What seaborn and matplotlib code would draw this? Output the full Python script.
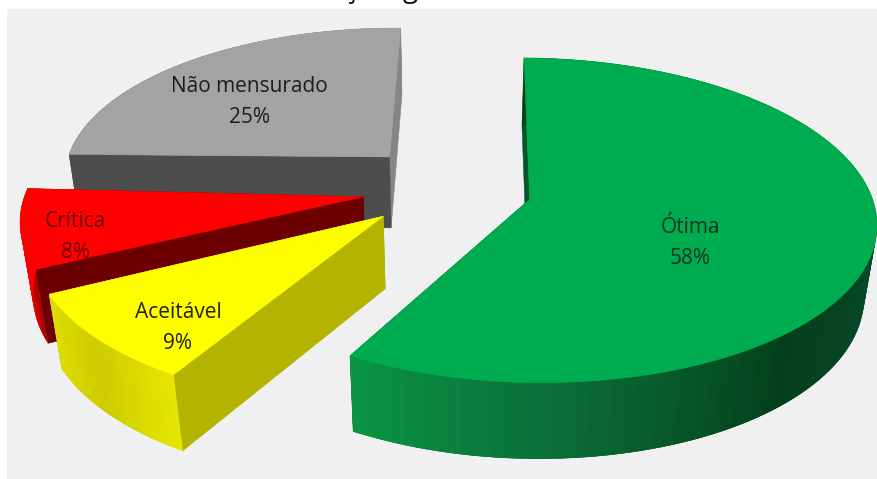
import matplotlib
matplotlib.use('Agg')
import matplotlib.pyplot as plt
from matplotlib.colors import to_rgb
from matplotlib.patches import Polygon, Rectangle
import numpy as np
import seaborn as sns

# slices, clockwise from the top
labels = ["Ótima", "Aceitável", "Crítica", "Não mensurado"]
shares = [58, 9, 8, 25]
top_colors = ["#00ac50", "#ffff00", "#ff0000", "#a3a3a3"]
first_face_colors = ["#00582a", "#b4b400", "#6c0000", "#4d4d4d"]
last_face_colors = ["#00582a", "#b4b400", "#6c0000", "#858585"]
text_colors = ["#12331f", "#222200", "#700000", "#1c1c24"]
# rim shade along each slice, from its first angle to its last
rim_colors = [
    ["#05401c", "#05401c", "#0a4d26", "#07492a", "#043f1b", "#0a6a35", "#0a9445"],
    ["#e6e600", "#cccc00", "#dede00"],
    ["#a80000", "#e80000", "#ff0000", "#ff0000"],
    ["#4d4d4d", "#4d4d4d", "#858585", "#858585"],
]
label_pos = [(690, 243), (178, 328), (75, 237), (249, 102)]
# cut off by the top edge of the picture, only the tails show
clipped_letters = ["ç", "g"]
clipped_x = [350, 410]

# view of the pie
START_ANGLE = 1.0
EXPLODE = 0.25
CX, CY = 447.0, 189.0
SCALE_X, SCALE_Y = 340.0, 157.0
TILT = 0.128
DEPTH = 74.0
DEPTH_SHRINK = 0.03
# small corrections per slice, the original has its own perspective
twist = [-0.3, 1.2, 2, 0]
radius = [1.0, 1.0, 0.99, 0.97]
lift = [0, 0, 0, 0.03]


def project(bearing, r, offset, low=False):
    u = r * np.sin(np.radians(bearing)) + offset[0]
    v = r * np.cos(np.radians(bearing)) + offset[1]
    w = 1 + TILT * v + (DEPTH_SHRINK if low else 0)
    return np.column_stack([CX + SCALE_X * u / w,
                            CY + (-SCALE_Y * v + (DEPTH if low else 0)) / w])


def shade(stops, n):
    rgb = np.array([to_rgb(c) for c in stops])
    pos = np.linspace(0, 1, len(stops))
    return np.column_stack([np.interp(np.linspace(0, 1, n), pos, rgb[:, i]) for i in range(3)])


sns.set_theme(style="white")
plt.rcParams['font.family'] = ['Open Sans', 'DejaVu Sans']

fig = plt.figure(figsize=(8.77, 4.79), dpi=100)
ax = fig.add_axes([0, 0, 1, 1])
ax.set_xlim(0, 877)
ax.set_ylim(479, 0)
ax.axis('off')
ax.add_patch(Rectangle((7, 9), 870, 470, color="#f0f0f0", lw=0, zorder=0))

spans = np.array(shares) * 3.6
starts = START_ANGLE + np.concatenate([[0], np.cumsum(spans)[:-1]])
order = [3, 2, 1, 0]  # back to front

for z, i in enumerate(order):
    a0, a1 = starts[i] + twist[i], starts[i] + twist[i] + spans[i]
    mid = np.radians((a0 + a1) / 2)
    off = (EXPLODE * np.sin(mid), EXPLODE * np.cos(mid) + lift[i])
    arc = np.linspace(a0, a1, 121)
    rim = np.full_like(arc, radius[i])
    rim_hi = project(arc, rim, off)
    rim_lo = project(arc, rim, off, low=True)
    apex_hi = project(np.array([0.0]), np.array([0.0]), off)
    apex_lo = project(np.array([0.0]), np.array([0.0]), off, low=True)
    base = 10 + z * 10
    # the two cut faces
    for end, col in ((-1, last_face_colors[i]), (0, first_face_colors[i])):
        quad = np.vstack([apex_hi, rim_hi[end], rim_lo[end], apex_lo])
        ax.add_patch(Polygon(quad, fc=col, ec=col, lw=0.4, zorder=base))
    # outer rim, drawn as overlapping strips to carry the shading
    cols = shade(rim_colors[i], len(arc) - 1)
    for j in range(len(arc) - 1):
        k = min(j + 3, len(arc) - 1)
        quad = np.vstack([rim_hi[j], rim_hi[k], rim_lo[k], rim_lo[j]])
        ax.add_patch(Polygon(quad, fc=cols[j], ec='none', zorder=base + 1))
    top = np.vstack([apex_hi, rim_hi])
    ax.add_patch(Polygon(top, fc=top_colors[i], ec=top_colors[i], lw=0.4, zorder=base + 2))

for i, (x, y) in enumerate(label_pos):
    ax.text(x, y, f"{labels[i]}\n{shares[i]}%", ha='center', va='center', fontsize=15,
            color=text_colors[i], linespacing=1.6, zorder=100)

for letter, x in zip(clipped_letters, clipped_x):
    ax.text(x, -3, letter, ha='center', va='baseline', fontsize=20, color="#111111", clip_on=False)

plt.savefig("out.png", dpi=100)
plt.close()
